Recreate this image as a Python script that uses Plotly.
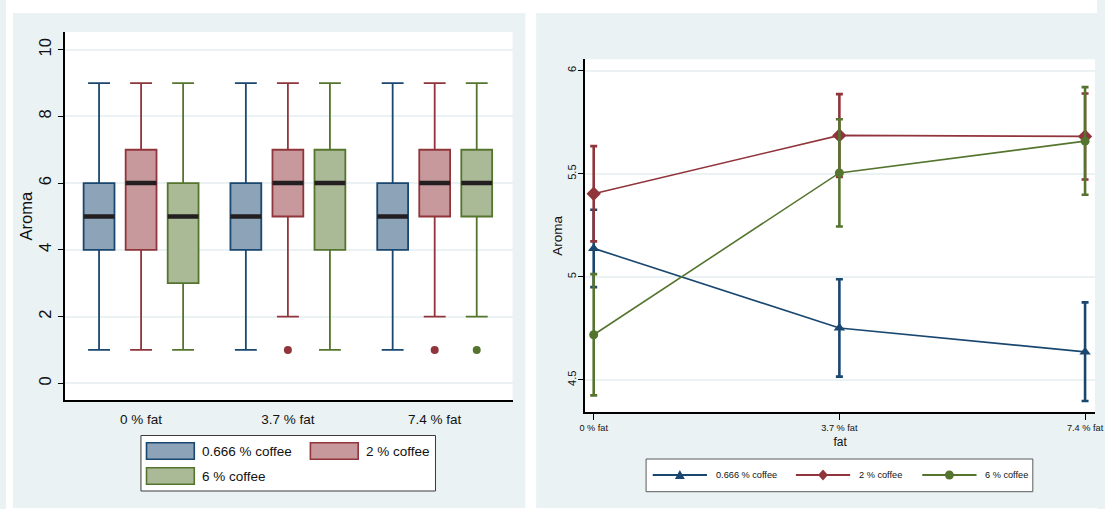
import plotly.graph_objects as go

# ---------------- data ----------------
fat_levels = ["0 % fat", "3.7 % fat", "7.4 % fat"]
fat_values = [0, 3.7, 7.4]
coffee_levels = ["0.666 % coffee", "2 % coffee", "6 % coffee"]

# box-plot statistics (rows: coffee level, columns: fat level)
box_q1 = [[4, 4, 4], [4, 5, 5], [3, 4, 5]]
box_median = [[5, 5, 5], [6, 6, 6], [5, 6, 6]]
box_q3 = [[6, 6, 6], [7, 7, 7], [6, 7, 7]]
box_lower = [[1, 1, 1], [1, 2, 2], [1, 1, 2]]
box_upper = [[9, 9, 9], [9, 9, 9], [9, 9, 9]]
# outside values: (fat level, aroma) per coffee level
outlier_fat = [[], ["3.7 % fat", "7.4 % fat"], ["7.4 % fat"]]
outlier_aroma = [[], [1, 1], [1]]

# predicted means with 95% CI (rows: coffee level, columns: fat level)
mean_aroma = [[5.138, 4.752, 4.636], [5.403, 5.686, 5.681], [4.719, 5.504, 5.658]]
ci_low = [[4.950, 4.516, 4.398], [5.172, 5.485, 5.472], [4.425, 5.244, 5.398]]
ci_high = [[5.325, 4.988, 4.876], [5.634, 5.886, 5.889], [5.013, 5.764, 5.920]]

# ---------------- style ----------------
W, H = 1105, 509
line_colors = ["#1A476F", "#90353B", "#55752F"]
fill_colors = ["#8DA3B8", "#C8999C", "#AABA96"]
marker_symbols = ["triangle-up", "diamond", "circle"]
marker_sizes = [10, 11, 9]
BG = "#EAF2F3"
FONT = "Liberation Sans, Arial, sans-serif"
TXT = "#111111"


def px(x):
    return x / W


def py(y):
    return 1 - y / H


fig = go.Figure()

# ---------------- left: box plots ----------------
for j, name in enumerate(coffee_levels):
    fig.add_trace(go.Box(
        x=fat_levels, q1=box_q1[j], median=box_median[j], q3=box_q3[j],
        lowerfence=box_lower[j], upperfence=box_upper[j],
        name=name, offsetgroup=str(j), alignmentgroup="L",
        line=dict(color=line_colors[j], width=1.8), fillcolor=fill_colors[j],
        whiskerwidth=0.71, showlegend=False, xaxis="x", yaxis="y",
    ))
# thick dark median bars
for j, name in enumerate(coffee_levels):
    fig.add_trace(go.Box(
        x=fat_levels, q1=box_median[j], median=box_median[j], q3=box_median[j],
        lowerfence=box_median[j], upperfence=box_median[j],
        boxpoints=False, name=name + " median", offsetgroup=str(j), alignmentgroup="L",
        line=dict(color="#231F20", width=4.5), fillcolor="rgba(0,0,0,0)",
        whiskerwidth=0, showlegend=False, hoverinfo="skip", xaxis="x", yaxis="y",
    ))
# outside values
for j, name in enumerate(coffee_levels):
    if not outlier_aroma[j]:
        continue
    fig.add_trace(go.Box(
        x=outlier_fat[j], y=outlier_aroma[j], boxpoints="all", jitter=0, pointpos=0,
        name=name + " outside", offsetgroup=str(j), alignmentgroup="L",
        line=dict(color="rgba(0,0,0,0)", width=0), fillcolor="rgba(0,0,0,0)",
        marker=dict(color=line_colors[j], size=8, line=dict(width=0)),
        showlegend=False, xaxis="x", yaxis="y",
    ))

# ---------------- right: means with CI ----------------
for j, name in enumerate(coffee_levels):
    m = mean_aroma[j]
    fig.add_trace(go.Scatter(
        x=fat_values, y=m, mode="lines+markers", name=name,
        line=dict(color=line_colors[j], width=1.6),
        marker=dict(symbol=marker_symbols[j], size=marker_sizes[j], color=line_colors[j],
                    line=dict(width=0)),
        error_y=dict(type="data", symmetric=False,
                     array=[h - v for h, v in zip(ci_high[j], m)],
                     arrayminus=[v - l for v, l in zip(m, ci_low[j])],
                     color=line_colors[j], thickness=2.6, width=3.5),
        showlegend=False, xaxis="x2", yaxis="y2",
    ))

# ---------------- white frame around panels & legends (shapes / annotations) ----------------
white = dict(type="rect", xref="paper", yref="paper", fillcolor="white",
             line=dict(width=0), layer="below")
shapes = [
    dict(white, x0=0, x1=1, y0=py(13), y1=1),            # top strip
    dict(white, x0=0, x1=1, y0=0, y1=py(508)),           # bottom strip
    dict(white, x0=0, x1=px(7), y0=0, y1=1),             # left strip
    dict(white, x0=px(526), x1=px(537), y0=0, y1=1),     # gap between panels
    dict(type="rect", xref="paper", yref="paper", x0=px(136.7), x1=px(435), y0=py(491), y1=py(435.5),
         fillcolor="white", line=dict(color="#3A3A3A", width=1)),
    dict(type="rect", xref="paper", yref="paper", x0=px(648.3), x1=px(1040), y0=py(491.7), y1=py(459),
         fillcolor="white", line=dict(color="#5A5A5A", width=1)),
]
annotations = []

left_swatches = [(142.3, 442.7), (308.3, 442.7), (142.3, 467.7)]
for j, name in enumerate(coffee_levels):
    sx, sy = left_swatches[j]
    shapes.append(dict(type="rect", xref="paper", yref="paper",
                       x0=px(sx), x1=px(sx + 48.4), y0=py(sy + 16.6), y1=py(sy),
                       fillcolor=fill_colors[j], line=dict(color=line_colors[j], width=1.6)))
    annotations.append(dict(xref="paper", yref="paper", x=px(sx + 54.5), y=py(sy + 8.3),
                            text=name, showarrow=False, xanchor="left", yanchor="middle",
                            font=dict(family=FONT, size=13.5, color=TXT)))

right_items = [655, 800, 928]
ly = 475
for j, name in enumerate(coffee_levels):
    x0 = right_items[j]
    cx = x0 + 27.5
    shapes.append(dict(type="line", xref="paper", yref="paper", x0=px(x0), x1=px(x0 + 55),
                       y0=py(ly), y1=py(ly), line=dict(color=line_colors[j], width=2)))
    if marker_symbols[j] == "triangle-up":
        path = "M {},{} L {},{} L {},{} Z".format(px(cx), py(ly - 5), px(cx - 5), py(ly + 4),
                                                 px(cx + 5), py(ly + 4))
        shapes.append(dict(type="path", xref="paper", yref="paper", path=path,
                           fillcolor=line_colors[j], line=dict(width=0)))
    elif marker_symbols[j] == "diamond":
        path = "M {},{} L {},{} L {},{} L {},{} Z".format(px(cx), py(ly - 5.5), px(cx + 5),
                                                         py(ly), px(cx), py(ly + 5.5),
                                                         px(cx - 5), py(ly))
        shapes.append(dict(type="path", xref="paper", yref="paper", path=path,
                           fillcolor=line_colors[j], line=dict(width=0)))
    else:
        shapes.append(dict(type="circle", xref="paper", yref="paper", x0=px(cx - 4.5),
                           x1=px(cx + 4.5), y0=py(ly + 4.5), y1=py(ly - 4.5),
                           fillcolor=line_colors[j], line=dict(width=0)))
    annotations.append(dict(xref="paper", yref="paper", x=px(x0 + 62), y=py(ly),
                            text=name, showarrow=False, xanchor="left", yanchor="middle",
                            font=dict(family=FONT, size=9.2, color=TXT)))

fig.update_layout(
    width=W, height=H, margin=dict(l=0, r=0, t=0, b=0),
    paper_bgcolor=BG, plot_bgcolor="white",
    boxmode="group", boxgap=0.141, boxgroupgap=0.266,
    shapes=shapes, annotations=annotations, showlegend=False,
    xaxis=dict(domain=[px(59.5), px(513)], type="category", range=[-0.52, 2.53],
               showgrid=False, zeroline=False, showline=True, linecolor="black", linewidth=2,
               ticks="outside", ticklen=5, tickcolor="rgba(0,0,0,0)",
               tickfont=dict(family=FONT, size=13.5, color=TXT), fixedrange=True),
    yaxis=dict(domain=[py(400.3), py(32)], range=[-0.51, 10.53], tickvals=[0, 2, 4, 6, 8, 10],
               tickangle=-90, showgrid=True, gridcolor=BG, gridwidth=2, zeroline=False,
               showline=True, linecolor="black", linewidth=1.5, ticks="outside", ticklen=5,
               tickwidth=1.2, tickcolor="black",
               tickfont=dict(family=FONT, size=16.5, color=TXT),
               title=dict(text="Aroma", font=dict(family=FONT, size=16.5, color=TXT),
                          standoff=0)),
    xaxis2=dict(domain=[px(586.5), px(1103)], anchor="y2", range=[-0.13, 7.55],
                tickvals=fat_values, ticktext=fat_levels, showgrid=False, zeroline=False,
                showline=True, linecolor="black", linewidth=1.5, ticks="outside", ticklen=6,
                tickwidth=1.2, tickcolor="black", ticklabeloverflow="allow",
                tickfont=dict(family=FONT, size=9.2, color=TXT),
                title=dict(text="fat", font=dict(family=FONT, size=12, color=TXT),
                           standoff=6)),
    yaxis2=dict(domain=[py(412.3), py(59.3)], anchor="x2", range=[4.343, 6.055],
                tickvals=[4.5, 5, 5.5, 6], ticktext=["4.5", "5", "5.5", "6"], tickangle=-90,
                showgrid=True, gridcolor=BG, gridwidth=2, zeroline=False, showline=True,
                linecolor="black", linewidth=1.5, ticks="outside", ticklen=5, tickwidth=1.2,
                tickcolor="black", tickfont=dict(family=FONT, size=11, color=TXT),
                ticklabelstandoff=-2,
                title=dict(text="Aroma", font=dict(family=FONT, size=13.5, color=TXT),
                           standoff=0)),
)

fig.write_html("out.html", config={"displayModeBar": False},
               post_script="document.body.style.margin='0';document.body.style.overflow='hidden';")
